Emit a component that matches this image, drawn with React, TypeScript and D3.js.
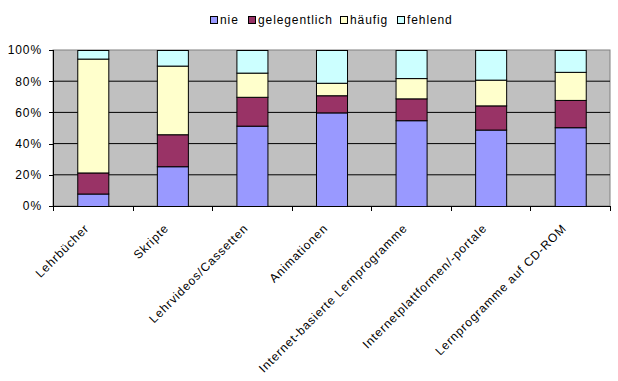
import React from "react";
import * as d3 from "d3";

const categories = [
  "Lehrbücher",
  "Skripte",
  "Lehrvideos/Cassetten",
  "Animationen",
  "Internet-basierte Lernprogramme",
  "Internetplattformen/-portale",
  "Lernprogramme auf CD-ROM",
];
const seriesNames = ["nie", "gelegentlich", "häufig", "fehlend"];
const nie = [8, 25.5, 51.5, 60, 55, 49, 50.5];
const gelegentlich = [13.5, 20.5, 18.5, 11, 14, 15.5, 17.5];
const haeufig = [73, 44, 15.5, 8, 13, 16.5, 18];
const fehlend = [5.5, 10, 14.5, 21, 18, 19, 14];
const yTicks = [0, 20, 40, 60, 80, 100];
const colors = ["#9999FF", "#993366", "#FFFFCC", "#CCFFFF"];

const W = 618;
const H = 381;
const plot = { left: 53, right: 610, top: 50, bottom: 206 };
const FONT = "'Liberation Sans', Arial, sans-serif";

export default function App() {
  const x = d3
    .scaleBand<string>()
    .domain(categories)
    .range([plot.left, plot.right])
    .paddingInner(0.61)
    .paddingOuter(0.305);
  const xOuter = d3.scaleBand<string>().domain(categories).range([plot.left, plot.right]);
  const y = d3.scaleLinear().domain([0, 100]).range([plot.bottom, plot.top]);

  const rows = categories.map((c, i) => ({
    cat: c,
    nie: nie[i],
    gelegentlich: gelegentlich[i],
    häufig: haeufig[i],
    fehlend: fehlend[i],
  }));
  const stacked = d3.stack<any>().keys(seriesNames)(rows);

  const legendX = [210, 248, 340, 397];

  return (
    <svg
      width={W}
      height={H}
      style={{ position: "absolute", left: 0, top: 0, background: "#fff" }}
      fontFamily={FONT}
    >
      <rect x={plot.left} y={plot.top} width={plot.right - plot.left} height={plot.bottom - plot.top} fill="#C0C0C0" stroke="#808080" />
      {yTicks.slice(1, -1).map((t) => (
        <line key={t} x1={plot.left} x2={plot.right} y1={y(t)} y2={y(t)} stroke="#000" />
      ))}
      {stacked.map((s, si) =>
        s.map((d, i) => (
          <rect
            key={si + "-" + i}
            x={(x(categories[i]) as number) + 0.5}
            y={y(d[1]) + 0.5}
            width={x.bandwidth()}
            height={y(d[0]) - y(d[1])}
            fill={colors[si]}
            stroke="#000"
            strokeWidth={1}
          />
        ))
      )}
      {/* axes */}
      <line x1={plot.left + 0.5} x2={plot.left + 0.5} y1={plot.top} y2={plot.bottom + 0.5} stroke="#000" />
      <line x1={plot.left} x2={plot.right} y1={plot.bottom + 0.5} y2={plot.bottom + 0.5} stroke="#000" />
      {yTicks.map((t) => (
        <g key={t}>
          <line x1={plot.left - 4} x2={plot.left} y1={Math.round(y(t)) + 0.5} y2={Math.round(y(t)) + 0.5} stroke="#000" />
          <text x={plot.left - 11} y={y(t)} dy="0.36em" textAnchor="end" fontSize={12} letterSpacing={0.9} fill="#000">
            {t + "%"}
          </text>
        </g>
      ))}
      {categories.concat([""]).map((c, i) => {
        const xx = i < categories.length ? (xOuter(c) as number) : plot.right;
        return <line key={"t" + i} x1={Math.round(xx) + 0.5} x2={Math.round(xx) + 0.5} y1={plot.bottom} y2={plot.bottom + 5} stroke="#000" />;
      })}
      {categories.map((c) => {
        const cx = (xOuter(c) as number) + xOuter.bandwidth() / 2;
        return (
          <text
            key={c}
            transform={`translate(${cx - 3},${229}) rotate(-45)`}
            textAnchor="end"
            fontSize={12}
            letterSpacing={0.9}
            fill="#000"
          >
            {c}
          </text>
        );
      })}
      {/* legend */}
      {seriesNames.map((n, i) => (
        <g key={n}>
          <rect x={legendX[i] + 0.5} y={16.5} width={7} height={7} fill={colors[i]} stroke="#000" />
          <text x={legendX[i] + 10} y={24} fontSize={12} letterSpacing={0.9} fill="#000">
            {n}
          </text>
        </g>
      ))}
    </svg>
  );
}
